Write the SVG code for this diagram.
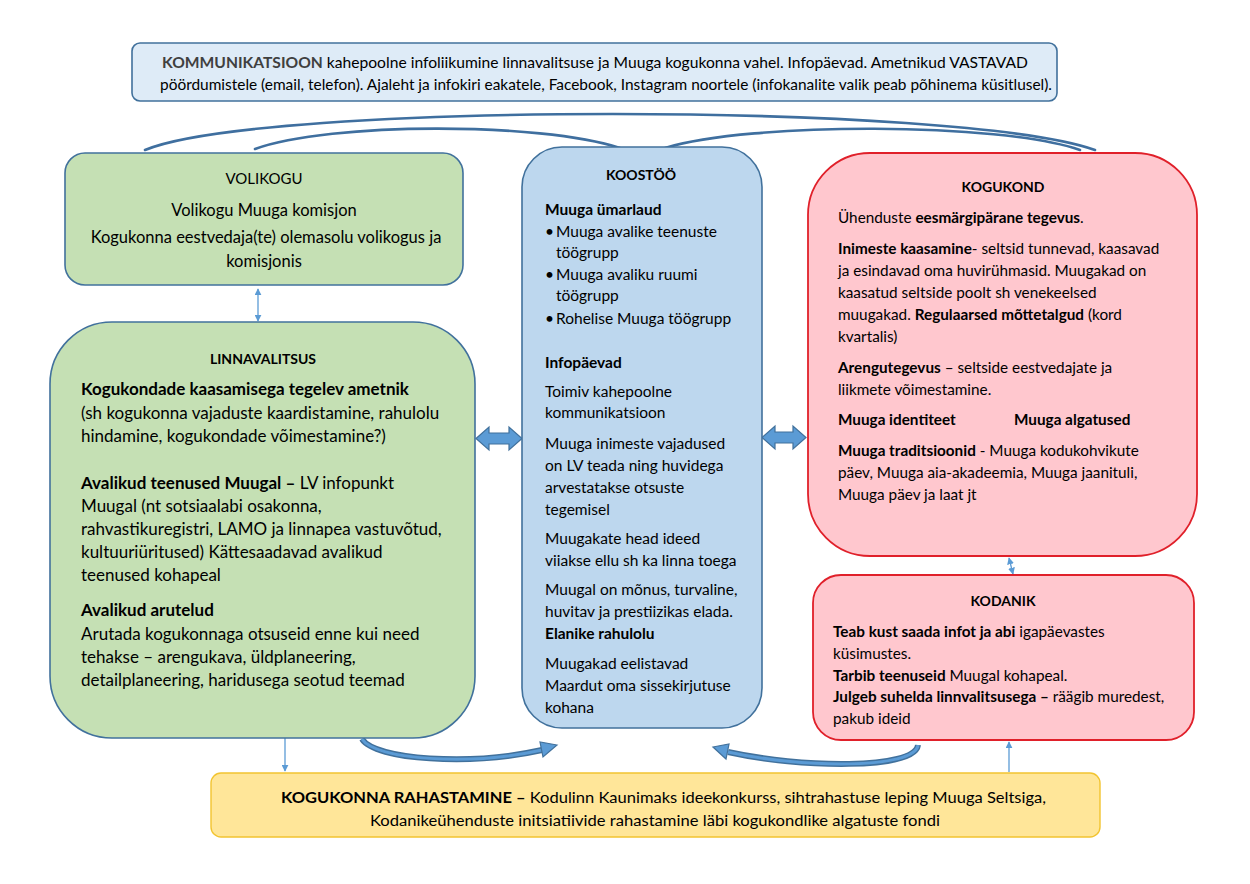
<svg xmlns="http://www.w3.org/2000/svg" width="1250" height="884" viewBox="0 0 1250 884">
<defs>
<style>
.t{font-family:Lato,"Liberation Sans",sans-serif;font-size:15px;fill:#000}
.lv{font-size:17px}
.vk{font-size:16.5px}
.ks{font-size:15.5px}
.s{font-size:15.3px}
.h{font-size:14px;font-weight:bold;text-anchor:middle}
.b{font-weight:bold}
.c{text-anchor:middle}
.blue{fill:#bdd7ee;stroke:#41719c;stroke-width:1.6}
.green{fill:#c5e0b4;stroke:#41719c;stroke-width:1.6}
.red{fill:#ffc7ce;stroke:#e0202a;stroke-width:1.8}
.gold{fill:#ffe699;stroke:#f2c430;stroke-width:1.4}
.thin{fill:none;stroke:#5b9bd5;stroke-width:1.3}
.arc{fill:none;stroke:#3f6f9f;stroke-width:2.6;stroke-linecap:round}
.blk{fill:#5b9bd5;stroke:#41719c;stroke-width:1.2}
</style>
<marker id="ah" viewBox="0 0 10 10" refX="9" refY="5" markerWidth="7" markerHeight="7" orient="auto-start-reverse" markerUnits="userSpaceOnUse">
<path d="M0,0 L10,5 L0,10 Z" fill="#5b9bd5"/>
</marker>
</defs>
<rect width="1250" height="884" fill="#fff"/>

<g id="connectors">
<path class="arc" d="M145,150 C260,102 960,102 1095,150"/>
<path class="arc" d="M255,149 C330,122 540,122 620,148"/>
<path class="arc" d="M665,148 C750,122 1000,122 1080,150"/>
<path d="M362,739 C375,760 470,766 542,750" fill="none" stroke="#41719c" stroke-width="6"/>
<path d="M362,739 C375,760 470,766 542,750" fill="none" stroke="#5b9bd5" stroke-width="3"/>
<path class="blk" d="M557,745 L543,757 L540,742 Z"/>
<path d="M918,745 C915,770 800,768 728,752" fill="none" stroke="#41719c" stroke-width="6"/>
<path d="M918,745 C915,770 800,768 728,752" fill="none" stroke="#5b9bd5" stroke-width="3"/>
<path class="blk" d="M713,747 L729,744 L726,759 Z"/>
<path class="blk" d="M476,438.5 L489,427 L489,433 L509,433 L509,427 L522,438.5 L509,450 L509,444 L489,444 L489,450 Z"/>
<path class="blk" d="M762,437.5 L775,426 L775,432 L793,432 L793,426 L806,437.5 L793,449 L793,443 L775,443 L775,449 Z"/>
<path class="thin" d="M258,289 L258,321" marker-start="url(#ah)" marker-end="url(#ah)"/>
<path class="thin" d="M1009,558 L1013,574" marker-start="url(#ah)" marker-end="url(#ah)"/>
<path class="thin" d="M285,738 L285,771" marker-end="url(#ah)"/>
<path class="thin" d="M1009,772 L1009,742" marker-end="url(#ah)"/>
</g>

<g id="kommunikatsioon">
<rect x="132" y="43" width="925" height="58" rx="8" fill="#deebf7" stroke="#41719c" stroke-width="1.6"/>
<text class="t" x="162" y="68" font-size="13.5" textLength="866" lengthAdjust="spacingAndGlyphs"><tspan class="b" fill="#404040">KOMMUNIKATSIOON</tspan>  kahepoolne infoliikumine linnavalitsuse ja Muuga kogukonna vahel. Infopäevad. Ametnikud VASTAVAD</text>
<text class="t" x="160" y="90" font-size="13.5" textLength="892" lengthAdjust="spacingAndGlyphs">pöördumistele (email, telefon). Ajaleht ja infokiri eakatele, Facebook, Instagram noortele (infokanalite valik peab põhinema küsitlusel).</text>
</g>

<g id="volikogu">
<rect class="green" x="65" y="153" width="398" height="132" rx="20"/>
<text class="t c" x="264" y="184" font-size="13.5">VOLIKOGU</text>
<text class="t c vk" x="264" y="216">Volikogu Muuga komisjon</text>
<text class="t c vk" x="266" y="243">Kogukonna eestvedaja(te) olemasolu volikogus ja</text>
<text class="t c vk" x="264" y="267">komisjonis</text>
</g>

<g id="linnavalitsus">
<rect class="green" x="50" y="322" width="425" height="416" rx="62"/>
<text class="t h" x="263" y="364">LINNAVALITSUS</text>
<text class="t lv b" x="81" y="395">Kogukondade kaasamisega tegelev ametnik</text>
<text class="t lv" x="81" y="419">(sh kogukonna vajaduste kaardistamine, rahulolu</text>
<text class="t lv" x="81" y="442">hindamine, kogukondade võimestamine?)</text>
<text class="t lv" x="81" y="489"><tspan class="b">Avalikud teenused Muugal –</tspan> LV infopunkt</text>
<text class="t lv" x="81" y="512">Muugal (nt sotsiaalabi osakonna,</text>
<text class="t lv" x="81" y="535">rahvastikuregistri, LAMO ja linnapea vastuvõtud,</text>
<text class="t lv" x="81" y="558">kultuuriüritused) Kättesaadavad avalikud</text>
<text class="t lv" x="81" y="581">teenused kohapeal</text>
<text class="t lv b" x="81" y="616">Avalikud arutelud</text>
<text class="t lv" x="81" y="640">Arutada kogukonnaga otsuseid enne kui need</text>
<text class="t lv" x="81" y="663">tehakse – arengukava, üldplaneering,</text>
<text class="t lv" x="81" y="686">detailplaneering, haridusega seotud teemad</text>
</g>

<g id="koostoo">
<rect class="blue" x="522" y="147" width="240" height="581" rx="40"/>
<text class="t h" x="641" y="180" fill="#595959">KOOSTÖÖ</text>
<text class="t b ks" x="545" y="215">Muuga ümarlaud</text>
<text class="t ks" x="545" y="237">•</text>
<text class="t ks" x="556" y="237">Muuga avalike teenuste</text>
<text class="t ks" x="556" y="258">töögrupp</text>
<text class="t ks" x="545" y="280">•</text>
<text class="t ks" x="556" y="280">Muuga avaliku ruumi</text>
<text class="t ks" x="556" y="301">töögrupp</text>
<text class="t ks" x="545" y="324">•</text>
<text class="t ks" x="556" y="324">Rohelise Muuga töögrupp</text>
<text class="t b ks" x="545" y="368">Infopäevad</text>
<text class="t ks" x="545" y="397">Toimiv kahepoolne</text>
<text class="t ks" x="545" y="418">kommunikatsioon</text>
<text class="t ks" x="545" y="449">Muuga inimeste vajadused</text>
<text class="t ks" x="545" y="471">on LV teada ning huvidega</text>
<text class="t ks" x="545" y="493">arvestatakse otsuste</text>
<text class="t ks" x="545" y="515">tegemisel</text>
<text class="t ks" x="545" y="544">Muugakate head ideed</text>
<text class="t ks" x="545" y="566">viiakse ellu sh ka linna toega</text>
<text class="t ks" x="545" y="595">Muugal on mõnus, turvaline,</text>
<text class="t ks" x="545" y="617">huvitav ja prestiizikas elada.</text>
<text class="t b ks" x="545" y="639">Elanike rahulolu</text>
<text class="t ks" x="545" y="669">Muugakad eelistavad</text>
<text class="t ks" x="545" y="691">Maardut oma sissekirjutuse</text>
<text class="t ks" x="545" y="713">kohana</text>
</g>

<g id="kogukond">
<rect class="red" x="808" y="153" width="389" height="403" rx="62"/>
<text class="t h" x="1003" y="192">KOGUKOND</text>
<text class="t s" x="838" y="223">Ühenduste <tspan class="b">eesmärgipärane tegevus</tspan>.</text>
<text class="t s" x="838" y="254"><tspan class="b">Inimeste kaasamine</tspan>- seltsid tunnevad, kaasavad</text>
<text class="t s" x="838" y="276">ja esindavad oma huvirühmasid. Muugakad on</text>
<text class="t s" x="838" y="298">kaasatud seltside poolt sh venekeelsed</text>
<text class="t s" x="838" y="320">muugakad. <tspan class="b">Regulaarsed mõttetalgud</tspan> (kord</text>
<text class="t s" x="838" y="342">kvartalis)</text>
<text class="t s" x="838" y="373"><tspan class="b">Arengutegevus</tspan> – seltside eestvedajate ja</text>
<text class="t s" x="838" y="395">liikmete võimestamine.</text>
<text class="t b s" x="838" y="425">Muuga identiteet</text>
<text class="t b s" x="1014" y="425">Muuga algatused</text>
<text class="t s" x="838" y="456"><tspan class="b">Muuga traditsioonid</tspan> - Muuga kodukohvikute</text>
<text class="t s" x="838" y="478">päev, Muuga aia-akadeemia, Muuga jaanituli,</text>
<text class="t s" x="838" y="500">Muuga päev ja laat jt</text>
</g>

<g id="kodanik">
<rect class="red" x="813" y="575" width="381" height="165" rx="28"/>
<text class="t h" x="1003" y="606">KODANIK</text>
<text class="t s" x="833" y="637"><tspan class="b">Teab kust saada infot ja abi</tspan> igapäevastes</text>
<text class="t s" x="833" y="659">küsimustes.</text>
<text class="t s" x="833" y="681"><tspan class="b">Tarbib teenuseid</tspan> Muugal kohapeal.</text>
<text class="t s" x="833" y="702"><tspan class="b">Julgeb suhelda linnvalitsusega –</tspan> räägib muredest,</text>
<text class="t s" x="833" y="724">pakub ideid</text>
</g>

<g id="rahastamine">
<rect class="gold" x="211" y="773" width="889" height="64" rx="10"/>
<text class="t" x="281" y="803" font-size="14.5" textLength="765" lengthAdjust="spacingAndGlyphs"><tspan class="b">KOGUKONNA RAHASTAMINE –</tspan> Kodulinn Kaunimaks ideekonkurss, sihtrahastuse leping Muuga Seltsiga,</text>
<text class="t" x="370" y="826" font-size="14.5" textLength="570" lengthAdjust="spacingAndGlyphs">Kodanikeühenduste initsiatiivide rahastamine läbi kogukondlike algatuste fondi</text>
</g>
</svg>
